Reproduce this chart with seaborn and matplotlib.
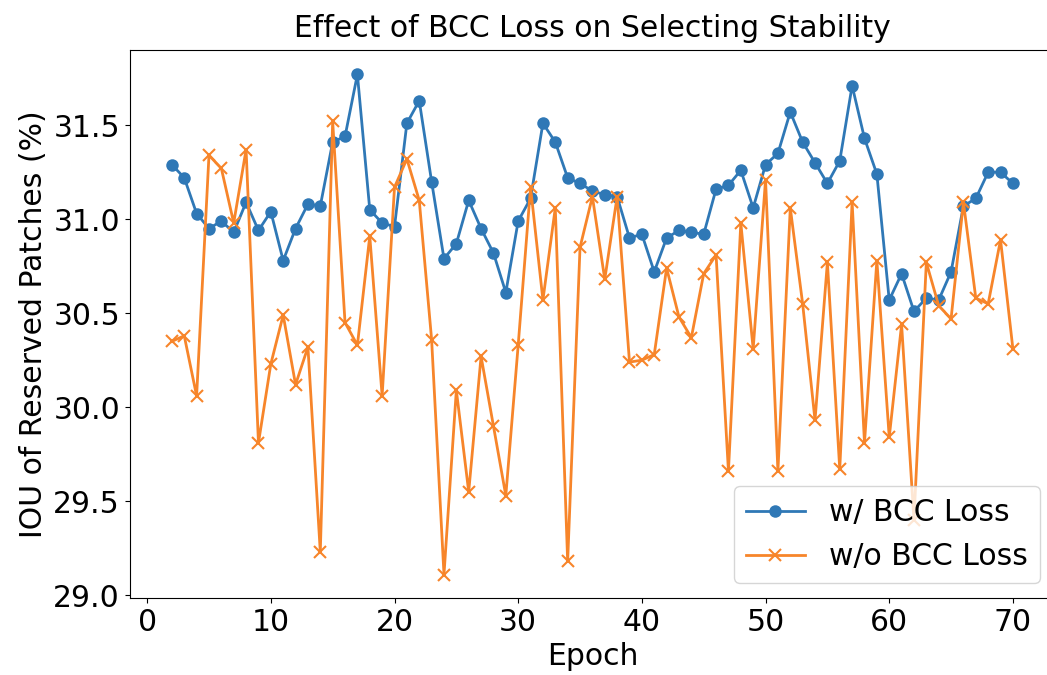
import numpy as np
import pandas as pd
import matplotlib
matplotlib.use('Agg')
import matplotlib.pyplot as plt
import seaborn as sns

# data
epochs = list(range(2, 71))
with_bcc = [31.29, 31.22, 31.03, 30.95, 30.99, 30.93, 31.09, 30.94, 31.04, 30.78,
            30.95, 31.08, 31.07, 31.41, 31.44, 31.77, 31.05, 30.98, 30.96, 31.51,
            31.63, 31.20, 30.79, 30.87, 31.10, 30.95, 30.82, 30.61, 30.99, 31.11,
            31.51, 31.41, 31.22, 31.19, 31.15, 31.13, 31.12, 30.90, 30.92, 30.72,
            30.90, 30.94, 30.93, 30.92, 31.16, 31.18, 31.26, 31.06, 31.29, 31.35,
            31.57, 31.41, 31.30, 31.19, 31.31, 31.71, 31.43, 31.24, 30.57, 30.71,
            30.51, 30.58, 30.57, 30.72, 31.07, 31.11, 31.25, 31.25, 31.19]
without_bcc = [30.35, 30.38, 30.06, 31.34, 31.27, 30.98, 31.37, 29.81, 30.23, 30.49,
               30.12, 30.32, 29.23, 31.52, 30.45, 30.33, 30.91, 30.06, 31.17, 31.32,
               31.10, 30.36, 29.11, 30.09, 29.55, 30.27, 29.90, 29.53, 30.33, 31.17,
               30.57, 31.06, 29.18, 30.85, 31.12, 30.68, 31.12, 30.24, 30.25, 30.28,
               30.74, 30.48, 30.37, 30.71, 30.81, 29.66, 30.98, 30.31, 31.21, 29.66,
               31.06, 30.55, 29.93, 30.77, 29.67, 31.09, 29.81, 30.78, 29.84, 30.44,
               29.40, 30.77, 30.54, 30.47, 31.09, 30.58, 30.55, 30.89, 30.31]

df = pd.DataFrame({'Epoch': epochs, 'w/ BCC Loss': with_bcc, 'w/o BCC Loss': without_bcc})

blue = '#2f78b6'
orange = '#f7852a'
fs = 21.5

fig, ax = plt.subplots(figsize=(10.47, 6.75), dpi=100)
# the right spine sits just past the image edge in the reference
fig.subplots_adjust(left=0.124, right=1.0076, top=0.926, bottom=0.114)

sns.lineplot(data=df, x='Epoch', y='w/ BCC Loss', marker='o', markersize=9,
             markeredgewidth=0, color=blue, linewidth=2, label='w/ BCC Loss', ax=ax)
sns.lineplot(data=df, x='Epoch', y='w/o BCC Loss', marker='x', markersize=8,
             markeredgewidth=1.5, markeredgecolor=orange, color=orange,
             linewidth=2, label='w/o BCC Loss', ax=ax)

ax.set_xlim(-1.4, 73.4)
ax.set_ylim(28.985, 31.9)
ax.set_xticks([0, 10, 20, 30, 40, 50, 60, 70])
ax.set_yticks([29.0, 29.5, 30.0, 30.5, 31.0, 31.5])
ax.tick_params(labelsize=fs)
ax.set_title('Effect of BCC Loss on Selecting Stability', fontsize=fs, pad=9)
ax.set_xlabel('Epoch', fontsize=fs)
ax.set_ylabel('IOU of Reserved Patches (%)', fontsize=fs)
ax.legend(loc='lower right', fontsize=fs)

fig.savefig('out.png', dpi=100)
